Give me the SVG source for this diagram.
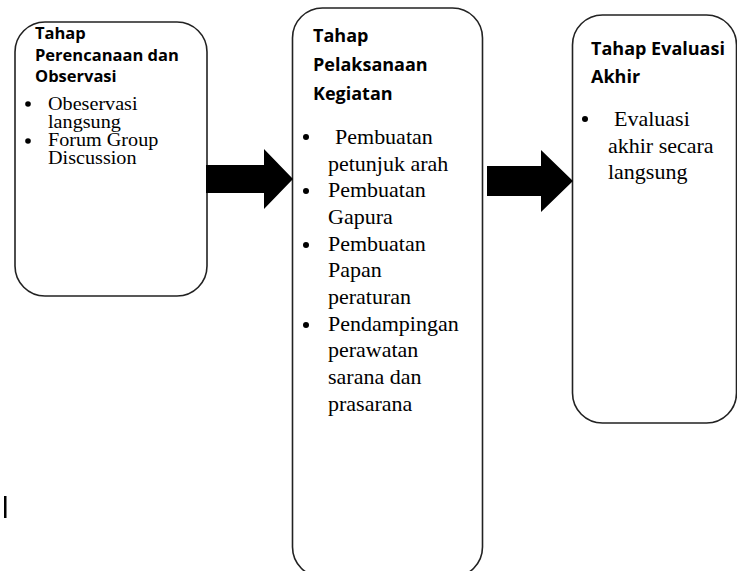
<svg xmlns="http://www.w3.org/2000/svg" width="737" height="571" viewBox="0 0 737 571">
<style>
.box{fill:#fff;stroke:#222;stroke-width:1.6}
.ttl{font-family:"Open Sans","Liberation Sans",sans-serif;font-weight:bold;fill:#000}
.bul{font-family:"Liberation Serif","Times New Roman",serif;fill:#000}
.dot{fill:#000}
.arr{fill:#000}
</style>
<rect width="737" height="571" fill="#fff"/>
<g id="node-perencanaan">
<rect class="box" x="15" y="22" width="192" height="274" rx="30" ry="30"/>
<text class="ttl" font-size="16.5"><tspan x="35" y="39">Tahap</tspan><tspan x="35" y="61">Perencanaan dan</tspan><tspan x="35" y="82">Observasi</tspan></text>
<circle class="dot" cx="28" cy="104" r="2.8"/>
<circle class="dot" cx="28" cy="141" r="2.8"/>
<g transform="translate(48,0) scale(1.12,1)">
<text class="bul" font-size="18"><tspan x="0" y="110">Obeservasi</tspan><tspan x="0" y="128">langsung</tspan><tspan x="0" y="146">Forum Group</tspan><tspan x="0" y="164">Discussion</tspan></text>
</g>
</g>
<g id="node-pelaksanaan">
<rect class="box" x="292.5" y="8" width="190" height="569" rx="30" ry="30"/>
<text class="ttl" font-size="18"><tspan x="313" y="42">Tahap</tspan><tspan x="313" y="71">Pelaksanaan</tspan><tspan x="313" y="100">Kegiatan</tspan></text>
<circle class="dot" cx="306" cy="137" r="3"/>
<circle class="dot" cx="306" cy="191" r="3"/>
<circle class="dot" cx="306" cy="245" r="3"/>
<circle class="dot" cx="306" cy="325" r="3"/>
<g transform="translate(328,0) scale(1.1,1)">
<text class="bul" font-size="20"><tspan x="6.4" y="144">Pembuatan</tspan><tspan x="0" y="171">petunjuk arah</tspan><tspan x="0" y="197">Pembuatan</tspan><tspan x="0" y="224">Gapura</tspan><tspan x="0" y="251">Pembuatan</tspan><tspan x="0" y="277">Papan</tspan><tspan x="0" y="304">peraturan</tspan><tspan x="0" y="331">Pendampingan</tspan><tspan x="0" y="357">perawatan</tspan><tspan x="0" y="384">sarana dan</tspan><tspan x="0" y="411">prasarana</tspan></text>
</g>
</g>
<g id="node-evaluasi">
<rect class="box" x="572.5" y="15" width="164" height="408" rx="30" ry="30"/>
<text class="ttl" font-size="18"><tspan x="591" y="55">Tahap Evaluasi</tspan><tspan x="591" y="83">Akhir</tspan></text>
<circle class="dot" cx="585" cy="119" r="3"/>
<g transform="translate(608,0) scale(1.1,1)">
<text class="bul" font-size="20"><tspan x="5.5" y="126">Evaluasi</tspan><tspan x="0" y="153">akhir secara</tspan><tspan x="0" y="179">langsung</tspan></text>
</g>
</g>
<g id="connectors">
<polygon class="arr" points="206,165 264,165 264,149 293,179 264,209 264,193 206,193"/>
<polygon class="arr" points="487,166 541,166 541,150 573,181 541,212 541,196 487,196"/>
</g>
<rect x="4" y="496" width="2.5" height="22" fill="#000"/>
</svg>
